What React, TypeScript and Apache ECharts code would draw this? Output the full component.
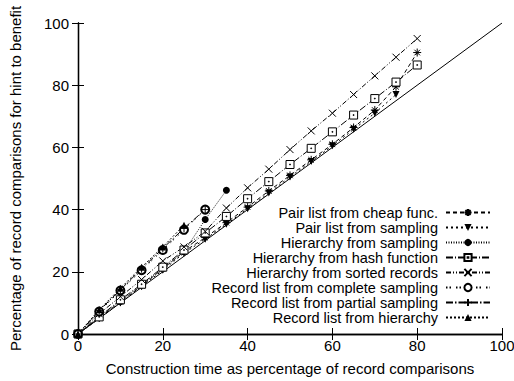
import React, { useEffect, useRef } from "react";
import * as echarts from "echarts";

const xValues = [0, 5, 10, 15, 20, 25, 30, 35, 40, 45, 50, 55, 60, 65, 70, 75, 80];

const seriesNames = [
  "Pair list from cheap func.",
  "Pair list from sampling",
  "Hierarchy from sampling",
  "Hierarchy from hash function",
  "Hierarchy from sorted records",
  "Record list from complete sampling",
  "Record list from partial sampling",
  "Record list from hierarchy",
];

const pairCheap = [0, 5.2, 10.3, 15.5, 21, 26.5, 31, 35.8, 40.8, 46, 51, 56, 61, 66.4, 72, 79.5, 90.5];
const pairSampling = [0, 5, 10, 15.3, 20.5, 26, 30.5, 35.3, 40.3, 45.3, 50.5, 55.5, 60.5, 65.8, 71, 77];
const hierSampling = [0, 5.5, 10.5, 15.8, 21, 26.5, 36.8, 46.2];
const hierHash = [0, 5.5, 11, 16, 21.5, 27, 32.5, 37.8, 43.5, 49, 54.5, 59.7, 65, 70.4, 75.7, 81, 86.5];
const hierSorted = [0, 6.5, 12, 17.5, 23.5, 28, 33, 40.5, 47, 53, 59.3, 65.3, 71, 77, 83, 89, 95];
const recComplete = [0, 7.2, 14, 20.5, 27, 33.5, 40];
const recPartial = [0, 7.5, 14.2, 21, 27.5, 34, 40];
const recHierarchy = [0, 7.8, 14.7, 21.5, 28, 35];

const diagonal = [[0, 0], [100, 100]];

const FONT = "'Liberation Sans', Arial, Helvetica, sans-serif";

const zip = (vals: number[]) => vals.map((v, i) => [xValues[i], v]);

const ASTER = "path://M5,0L5,10M0,5L10,5M1.5,1.5L8.5,8.5M8.5,1.5L1.5,8.5";
const CROSS = "path://M0,0L10,10M10,0L0,10";
const PLUS = "path://M5,0L5,10M0,5L10,5";
const SQDOT = "path://M0,0L10,0L10,10L0,10Z M4.5,4.5L5.5,4.5L5.5,5.5L4.5,5.5Z";

export default function App() {
  const ref = useRef<HTMLDivElement>(null);
  useEffect(() => {
    if (!ref.current) return;
    const chart = echarts.init(ref.current, null, { renderer: "svg" });
    const strokeItem = { color: "#000", borderColor: "#000", borderWidth: 1 };
    const mk = (
      name: string,
      vals: number[],
      symbol: string,
      size: number,
      dash: number[],
      itemStyle: any,
      extra: any = {}
    ) => ({
      name,
      type: "line",
      data: zip(vals),
      symbol,
      symbolSize: size,
      showSymbol: true,
      lineStyle: { color: "#000", width: 1, type: dash },
      itemStyle,
      z: 3,
      ...extra,
    });
    const option: any = {
      animation: false,
      backgroundColor: "#fff",
      textStyle: { fontFamily: FONT, color: "#000" },
      grid: { left: 78, right: 12, top: 23, bottom: 47, containLabel: false, outerBoundsMode: "none" },
      legend: {
        data: seriesNames,
        orient: "vertical",
        align: "right",
        right: 18,
        top: 200,
        itemWidth: 44,
        itemHeight: 9,
        itemGap: 0,
        textStyle: { fontFamily: FONT, fontSize: 14.5, lineHeight: 14.9, color: "#000", padding: [0, 3, 0, 0] },
        selectedMode: false,
      },
      xAxis: [
        {
          type: "value",
          min: 0,
          max: 100,
          interval: 20,
          name: "Construction time as percentage of record comparisons",
          nameLocation: "middle",
          nameGap: 27,
          nameTextStyle: { fontFamily: FONT, fontSize: 15, color: "#000" },
          axisLine: { show: true, lineStyle: { color: "#000", width: 1.3 } },
          axisTick: { show: true, inside: true, length: 6, lineStyle: { color: "#000" } },
          axisLabel: { fontFamily: FONT, fontSize: 15, color: "#000", margin: 4 },
          splitLine: { show: false },
        },
        {
          type: "value",
          position: "top",
          min: 0,
          max: 100,
          interval: 20,
          axisLine: { show: true, lineStyle: { color: "#000", width: 1.3 } },
          axisTick: { show: true, inside: true, length: 6, lineStyle: { color: "#000" } },
          axisLabel: { show: false },
          splitLine: { show: false },
        },
      ],
      yAxis: [
        {
          type: "value",
          min: 0,
          max: 100,
          interval: 20,
          name: "Percentage of record comparisons for hint to benefit",
          nameLocation: "middle",
          nameGap: 55,
          nameTextStyle: { fontFamily: FONT, fontSize: 15, color: "#000" },
          axisLine: { show: true, lineStyle: { color: "#000", width: 1.3 } },
          axisTick: { show: true, inside: true, length: 6, lineStyle: { color: "#000" } },
          axisLabel: { fontFamily: FONT, fontSize: 15, color: "#000", margin: 9 },
          splitLine: { show: false },
        },
        {
          type: "value",
          position: "right",
          min: 0,
          max: 100,
          interval: 20,
          axisLine: { show: true, lineStyle: { color: "#000", width: 1.3 } },
          axisTick: { show: true, inside: true, length: 6, lineStyle: { color: "#000" } },
          axisLabel: { show: false },
          splitLine: { show: false },
        },
      ],
      series: [
        {
          name: "diagonal",
          type: "line",
          data: diagonal,
          symbol: "none",
          lineStyle: { color: "#000", width: 1 },
          z: 2,
        },
        mk(seriesNames[0], pairCheap, ASTER, 8, [4, 3], strokeItem),
        mk(seriesNames[1], pairSampling, "triangle", 7, [2, 3], { color: "#000" }, { symbolRotate: 180 }),
        mk(seriesNames[2], hierSampling, "circle", 7, [1, 1.5], { color: "#000" }),
        mk(seriesNames[3], hierHash, SQDOT, 8, [7, 2, 1, 2], { color: "#fff", borderColor: "#000", borderWidth: 1 }),
        mk(seriesNames[4], hierSorted, CROSS, 7, [5, 2, 1, 2, 1, 2], strokeItem),
        mk(seriesNames[5], recComplete, "emptyCircle", 8, [1.5, 2, 1.5, 5], { color: "#000", borderColor: "#000", borderWidth: 1 }),
        mk(seriesNames[6], recPartial, PLUS, 8, [7, 2, 1.5, 2], strokeItem),
        mk(seriesNames[7], recHierarchy, "triangle", 7, [2, 2], { color: "#000" }),
      ],
    };
    chart.setOption(option);
    return () => chart.dispose();
  }, []);
  return (
    <div
      ref={ref}
      style={{ position: "fixed", left: 0, top: 0, width: 514, height: 381 }}
    />
  );
}
